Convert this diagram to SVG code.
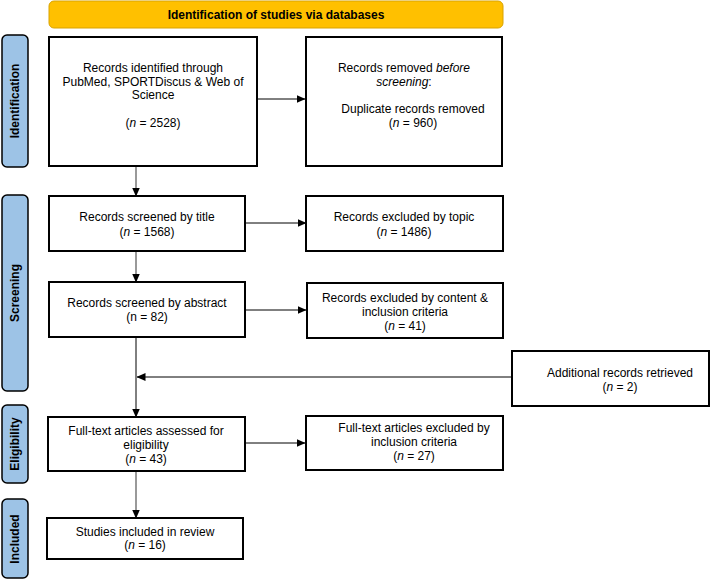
<svg xmlns="http://www.w3.org/2000/svg" width="710" height="579" viewBox="0 0 710 579">
<style>
text{font-family:"Liberation Sans",Arial,sans-serif;font-size:12px;fill:#000}
.b{fill:#fff;stroke:#000;stroke-width:2}
.side{fill:#9DC3E6;stroke:#000;stroke-width:1.5}
.st{font-weight:bold;text-anchor:middle;dominant-baseline:central}
.c{text-anchor:middle}
.v{stroke:#555;stroke-width:1.2;fill:none}
.h{stroke:#000;stroke-width:1;fill:none}
</style>
<defs>
<marker id="ah" markerWidth="9" markerHeight="8" refX="8.5" refY="4" orient="auto" markerUnits="userSpaceOnUse">
<path d="M0,0 L9,4 L0,8 Z" fill="#000"/>
</marker>
</defs>
<rect width="710" height="579" fill="#fff"/>
<g id="header">
<rect x="49" y="1" width="454" height="27" rx="5" fill="#FFC000" stroke="#D9A300" stroke-width="1"/>
<text x="276" y="19" class="c" font-weight="bold">Identification of studies via databases</text>
</g>
<g id="phase-identification">
<rect x="2" y="35" width="26" height="132" rx="5" class="side"/>
<text class="st" transform="translate(15,101) rotate(-90)">Identification</text>
</g>
<g id="phase-screening">
<rect x="2" y="195" width="26" height="196" rx="5" class="side"/>
<text class="st" transform="translate(15,293) rotate(-90)">Screening</text>
</g>
<g id="phase-eligibility">
<rect x="2" y="405" width="26" height="78" rx="5" class="side"/>
<text class="st" transform="translate(15,444) rotate(-90)">Eligibility</text>
</g>
<g id="phase-included">
<rect x="2" y="499" width="26" height="79" rx="5" class="side"/>
<text class="st" transform="translate(15,539) rotate(-90)">Included</text>
</g>
<g id="connectors">
<line x1="136" y1="166" x2="136" y2="196" class="v" marker-end="url(#ah)"/>
<line x1="136" y1="251" x2="136" y2="282" class="v" marker-end="url(#ah)"/>
<line x1="136" y1="337" x2="136" y2="417" class="h" marker-end="url(#ah)"/>
<line x1="136" y1="471" x2="136" y2="518" class="v" marker-end="url(#ah)"/>
<line x1="257" y1="99" x2="305" y2="99" class="h" marker-end="url(#ah)"/>
<line x1="245" y1="223" x2="306" y2="223" class="h" marker-end="url(#ah)"/>
<line x1="245" y1="310" x2="306" y2="310" class="h" marker-end="url(#ah)"/>
<line x1="245" y1="443" x2="305" y2="443" class="h" marker-end="url(#ah)"/>
<line x1="512" y1="377" x2="137" y2="377" class="h" marker-end="url(#ah)"/>
</g>
<g id="records-identified">
<rect x="49" y="37" width="208" height="129" class="b"/>
<text x="153" y="72" class="c">Records identified through</text>
<text x="153" y="85.5" class="c">PubMed, SPORTDiscus &amp; Web of</text>
<text x="153" y="99" class="c">Science</text>
<text x="153" y="127" class="c">(<tspan font-style="italic">n</tspan> = 2528)</text>
</g>
<g id="records-removed">
<rect x="306" y="37" width="196" height="129" class="b"/>
<text x="404" y="72" class="c">Records removed <tspan font-style="italic">before</tspan></text>
<text x="404" y="85.5" class="c"><tspan font-style="italic">screening</tspan>:</text>
<text x="413" y="113" class="c">Duplicate records removed</text>
<text x="413" y="127" class="c">(<tspan font-style="italic">n</tspan> = 960)</text>
</g>
<g id="screened-title">
<rect x="49" y="196" width="196" height="55" class="b"/>
<text x="147" y="221" class="c">Records screened by title</text>
<text x="147" y="236" class="c">(<tspan font-style="italic">n</tspan> = 1568)</text>
</g>
<g id="excluded-topic">
<rect x="306" y="196" width="197" height="55" class="b"/>
<text x="404" y="221" class="c">Records excluded by topic</text>
<text x="404" y="236" class="c">(<tspan font-style="italic">n</tspan> = 1486)</text>
</g>
<g id="screened-abstract">
<rect x="49" y="282" width="196" height="55" class="b"/>
<text x="147" y="307" class="c">Records screened by abstract</text>
<text x="147" y="321" class="c">(n = 82)</text>
</g>
<g id="excluded-content">
<rect x="307" y="283" width="196" height="55" class="b"/>
<text x="405" y="302" class="c">Records excluded by content &amp;</text>
<text x="405" y="316" class="c">inclusion criteria</text>
<text x="405" y="330" class="c">(<tspan font-style="italic">n</tspan> = 41)</text>
</g>
<g id="additional-records">
<rect x="512" y="351" width="197" height="55" class="b"/>
<text x="620" y="377" class="c">Additional records retrieved</text>
<text x="620" y="391" class="c">(<tspan font-style="italic">n</tspan> = 2)</text>
</g>
<g id="fulltext-assessed">
<rect x="48" y="417" width="197" height="54" class="b"/>
<text x="146" y="435" class="c">Full-text articles assessed for</text>
<text x="146" y="449" class="c">eligibility</text>
<text x="146" y="463" class="c">(<tspan font-style="italic">n</tspan> = 43)</text>
</g>
<g id="fulltext-excluded">
<rect x="306" y="416" width="197" height="54" class="b"/>
<text x="414" y="432" class="c">Full-text articles excluded by</text>
<text x="414" y="446" class="c">inclusion criteria</text>
<text x="414" y="460" class="c">(<tspan font-style="italic">n</tspan> = 27)</text>
</g>
<g id="studies-included">
<rect x="47" y="518" width="196" height="41" class="b"/>
<text x="145" y="536" class="c">Studies included in review</text>
<text x="145" y="549" class="c">(<tspan font-style="italic">n</tspan> = 16)</text>
</g>
</svg>
